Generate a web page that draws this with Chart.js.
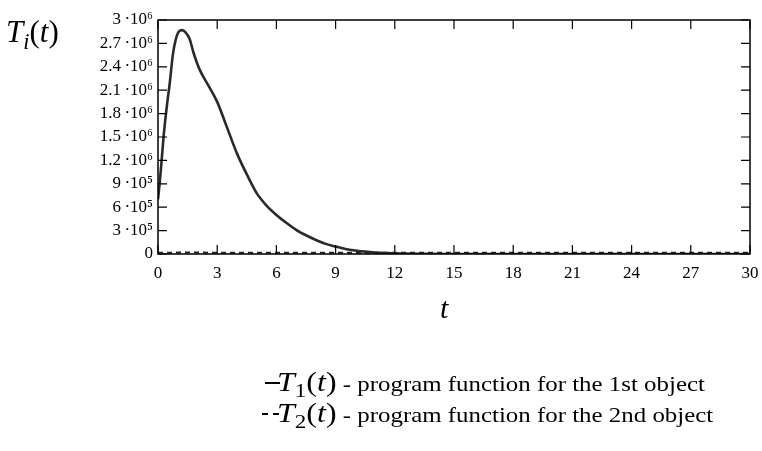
<!DOCTYPE html>
<html>
<head>
<meta charset="utf-8">
<script src="https://cdn.jsdelivr.net/npm/chart.js@4/dist/chart.umd.min.js"></script>
<style>
  html,body{margin:0;padding:0;background:#fff;}
  #wrap{position:relative;width:762px;height:451px;overflow:hidden;}
  canvas{position:absolute;left:0;top:0;}
  .math{font-family:"Liberation Serif","Times New Roman",serif;position:absolute;white-space:nowrap;color:#000;}
  .math i{font-style:italic;}
  .math sub{font-size:0.72em;vertical-align:-0.3em;line-height:0;}
  .leg{transform:scaleX(1.185);transform-origin:0 50%;}
  .desc{font-size:21px;}
  .mk{position:absolute;height:0;}
</style>
</head>
<body>
<div id="wrap">
  <canvas id="c" width="762" height="451"></canvas>
  <div class="math" style="left:6px;top:14px;font-size:31px;"><i>T</i><sub><i>i</i></sub>(<i>t</i>)</div>
  <div class="math" style="left:440px;top:291px;font-size:30px;"><i>t</i></div>
  <div class="mk" style="left:265px;top:382px;width:15px;border-top:2px solid #000;"></div>
  <div class="math leg" style="left:277px;top:367px;font-size:27px;"><i>T</i><sub>1</sub>(<i>t</i>)<span class="desc"> - program function for the 1st object</span></div>
  <div class="mk" style="left:262px;top:413px;width:17px;border-top:2px dashed #000;"></div>
  <div class="math leg" style="left:277px;top:398px;font-size:27px;"><i>T</i><sub>2</sub>(<i>t</i>)<span class="desc"> - program function for the 2nd object</span></div>
</div>
<script>
// time values (t) and program functions
const tValues1 = [0, 0.1, 0.2, 0.3, 0.45, 0.6, 0.75, 0.9, 1.05, 1.23, 1.4, 1.6, 1.8, 2.1, 2.6, 3.0, 3.5, 4.0, 4.6, 5.0, 5.5, 6.0, 6.5, 7.0, 7.5, 8.0, 8.5, 9.0, 9.5, 10, 10.5, 11, 12, 15, 20, 25, 30];
const T1 = [700000, 950000, 1250000, 1550000, 1900000, 2200000, 2550000, 2750000, 2850000, 2870000, 2840000, 2760000, 2580000, 2370000, 2140000, 1950000, 1620000, 1290000, 970000, 780000, 620000, 500000, 400000, 310000, 240000, 180000, 130000, 95000, 65000, 45000, 30000, 20000, 8000, 0, 0, 0, 0];
const tValues2 = [0, 1, 2, 3, 5, 10, 15, 20, 25, 30];
const T2 = [15000, 18000, 18000, 17000, 16000, 15000, 15000, 15000, 15000, 15000];
const xTicks = [0, 3, 6, 9, 12, 15, 18, 21, 24, 27, 30];
const yTickLabels = {0:"0",300000:"3\u2009·10⁵",600000:"6\u2009·10⁵",900000:"9\u2009·10⁵",1200000:"1.2\u2009·10⁶",1500000:"1.5\u2009·10⁶",1800000:"1.8\u2009·10⁶",2100000:"2.1\u2009·10⁶",2400000:"2.4\u2009·10⁶",2700000:"2.7\u2009·10⁶",3000000:"3\u2009·10⁶"};

const d1 = tValues1.map((t,i)=>({x:t,y:T1[i]}));
const d2 = tValues2.map((t,i)=>({x:t,y:T2[i]}));

const frame = {
  id:'frame',
  afterDatasetsDraw(chart){
    const {ctx, chartArea:a, scales:{x,y}} = chart;
    ctx.save();
    ctx.strokeStyle='#000';
    ctx.lineWidth=1.5;
    ctx.strokeRect(a.left,a.top,a.right-a.left,a.bottom-a.top);
    ctx.lineWidth=1.2;
    ctx.beginPath();
    const L=9;
    x.ticks.forEach(tk=>{
      const px=x.getPixelForValue(tk.value);
      ctx.moveTo(px,a.bottom);ctx.lineTo(px,a.bottom-L);
      ctx.moveTo(px,a.top);ctx.lineTo(px,a.top+L);
    });
    y.ticks.forEach(tk=>{
      const py=y.getPixelForValue(tk.value);
      ctx.moveTo(a.left,py);ctx.lineTo(a.left+L,py);
      ctx.moveTo(a.right,py);ctx.lineTo(a.right-L,py);
    });
    ctx.stroke();
    ctx.restore();
  }
};

new Chart(document.getElementById('c'),{
  type:'line',
  data:{datasets:[
    {data:d1,borderColor:'#2a2a2a',borderWidth:2.6,pointRadius:0,cubicInterpolationMode:'monotone',fill:false},
    {data:d2,borderColor:'#222',borderWidth:2,borderDash:[5,4],pointRadius:0,fill:false}
  ]},
  options:{
    responsive:false,animation:false,
    layout:{padding:{left:0,top:20,right:12,bottom:0}},
    plugins:{legend:{display:false},tooltip:{enabled:false}},
    scales:{
      x:{type:'linear',min:0,max:30,
        afterBuildTicks:(s)=>{s.ticks=xTicks.map(v=>({value:v}));},
        afterFit:(s)=>{s.height=197;s.paddingLeft=0;s.paddingRight=0;},
        grid:{display:false,drawTicks:false},border:{display:false},
        ticks:{padding:9,color:'#000',maxRotation:0,autoSkip:false,font:{family:'"Liberation Serif"',size:17}}},
      y:{type:'linear',min:0,max:3000000,
        afterBuildTicks:(s)=>{s.ticks=Object.keys(yTickLabels).map(v=>({value:+v}));},
        afterFit:(s)=>{s.width=158;s.paddingTop=0;s.paddingBottom=0;},
        grid:{display:false,drawTicks:false},border:{display:false},
        ticks:{padding:5,color:'#000',autoSkip:false,font:{family:'"Liberation Serif"',size:17},
          callback:(v)=>yTickLabels[v]}}
    }
  },
  plugins:[frame]
});
</script>
</body>
</html>
